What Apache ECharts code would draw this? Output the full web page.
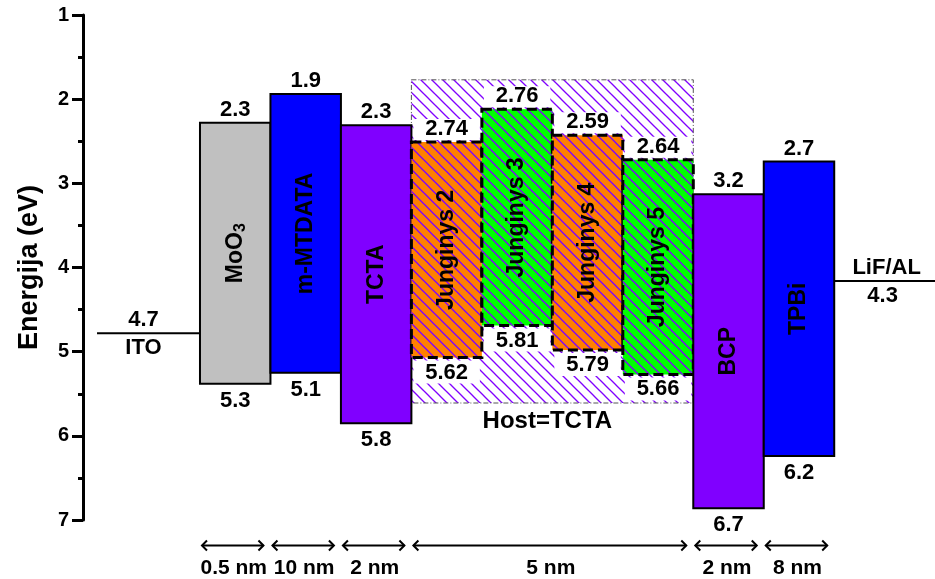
<!DOCTYPE html>
<html>
<head>
<meta charset="utf-8">
<script src="https://cdn.jsdelivr.net/npm/echarts@6/dist/echarts.min.js"></script>
<style>html,body{margin:0;padding:0;background:#fff}#c{width:935px;height:579px}</style>
</head>
<body>
<div id="c"></div>
<script>
// ---- data ----
var layers = ['MoO3', 'm-MTDATA', 'TCTA', 'Junginys 2', 'Junginys 3', 'Junginys 4', 'Junginys 5', 'BCP', 'TPBi'];
var lumoLevel = [2.28, 1.94, 2.31, 2.51, 2.12, 2.43, 2.72, 3.13, 2.74];
var homoLevel = [5.38, 5.25, 5.85, 5.07, 4.69, 4.98, 5.27, 6.86, 6.24];
var lumoText = ['2.3', '1.9', '2.3', '2.74', '2.76', '2.59', '2.64', '3.2', '2.7'];
var homoText = ['5.3', '5.1', '5.8', '5.62', '5.81', '5.79', '5.66', '6.7', '6.2'];
var electrodeNames = ['ITO', 'LiF/AL'];
var electrodeLevel = [4.78, 4.16];
var electrodeText = ['4.7', '4.3'];
var hostName = 'Host=TCTA';
var hostTop = 1.77, hostBottom = 5.61;
var thicknessText = ['0.5 nm', '10 nm', '2 nm', '5 nm', '2 nm', '8 nm'];
var thicknessFrom = [0, 1, 2, 3, 7, 8];
var thicknessTo = [1, 2, 3, 7, 8, 9];
var yTicks = [1, 2, 3, 4, 5, 6, 7];

// ---- style ----
var layerColor = ['#c0c0c0', '#0000ff', '#8000ff', '#ff8000', '#00ff00', '#ff8000', '#00ff00', '#8000ff', '#0000ff'];
var doped = [false, false, false, true, true, true, true, false, false];
var FAM = 'Arial, "Liberation Sans", sans-serif';
var FONT = 'bold 22px ' + FAM;
var NAMEFONT = 'bold 23px ' + FAM;

// hatch pattern
var hc = document.createElement('canvas');
var S = 11; hc.width = S; hc.height = S;
var hctx = hc.getContext('2d');
hctx.strokeStyle = '#8000ff'; hctx.lineWidth = 1.3;
for (var k = -1; k <= 1; k++) {
  hctx.beginPath(); hctx.moveTo(-1, k * S - 1); hctx.lineTo(S + 1, S + k * S + 1); hctx.stroke();
}
var hatch = { image: hc, repeat: 'repeat' };

var chart = echarts.init(document.getElementById('c'), null, { renderer: 'canvas' });

var layerData = layers.map(function (n, i) { return [i, i + 1, lumoLevel[i], homoLevel[i]]; });
var electrodeData = [[-1.461, 0, electrodeLevel[0], 0], [9, 10.43, electrodeLevel[1], 1]];
var thickData = thicknessText.map(function (t, i) { return [thicknessFrom[i], thicknessTo[i], i]; });

function txt(x, y, s, font) {
  return { type: 'text', x: x, y: y, style: { text: s, font: font || FONT, fill: '#000', align: 'center', verticalAlign: 'middle' } };
}

function layerItem(params, api) {
  var i = params.dataIndex;
  var p1 = api.coord([api.value(0), api.value(2)]);
  var p2 = api.coord([api.value(1), api.value(3)]);
  var x = p1[0], y = p1[1], w = p2[0] - p1[0], h = p2[1] - p1[1];
  var cx = x + w / 2, cy = y + h / 2;
  var ch = [];
  if (doped[i]) {
    ch.push({ type: 'rect', shape: { x: x, y: y, width: w, height: h }, style: { fill: layerColor[i] } });
    ch.push({ type: 'rect', shape: { x: x, y: y, width: w, height: h }, style: { fill: hatch } });
    ch.push({ type: 'rect', shape: { x: x + 2, y: y - 23, width: w - 4, height: 21 }, style: { fill: '#fff' } });
    ch.push({ type: 'rect', shape: { x: x + 2, y: y + h + 3, width: w - 4, height: 23 }, style: { fill: '#fff' } });
    ch.push({ type: 'rect', shape: { x: x, y: y, width: w, height: h }, style: { fill: null, stroke: '#000', lineWidth: 3, lineDash: [10, 5] } });
  } else {
    ch.push({ type: 'rect', shape: { x: x, y: y, width: w, height: h }, style: { fill: layerColor[i], stroke: '#000', lineWidth: 2 } });
  }
  var nameStyle;
  if (layers[i] === 'MoO3') {
    nameStyle = { text: '{a|MoO}{s|3}', rich: { a: { font: NAMEFONT, fill: '#000' }, s: { font: 'bold 16px ' + FAM, fill: '#000', padding: [10, 0, 0, 0] } }, align: 'center', verticalAlign: 'middle' };
  } else {
    nameStyle = { text: layers[i], font: NAMEFONT, fill: '#000', align: 'center', verticalAlign: 'middle' };
  }
  ch.push({ type: 'text', x: cx, y: cy, rotation: Math.PI / 2, style: nameStyle });
  ch.push(txt(cx, y - 13, lumoText[i]));
  ch.push(txt(cx, y + h + (doped[i] ? 15 : 17), homoText[i]));
  return { type: 'group', children: ch };
}

function hostItem(params, api) {
  var p1 = api.coord([3, hostTop]);
  var p2 = api.coord([7, hostBottom]);
  var x = p1[0], y = p1[1], w = p2[0] - p1[0], h = p2[1] - p1[1];
  return { type: 'group', children: [
    { type: 'rect', shape: { x: x, y: y, width: w, height: h }, style: { fill: hatch } },
    { type: 'rect', shape: { x: x, y: y, width: w, height: h }, style: { fill: null, stroke: '#555', lineWidth: 1, lineDash: [5, 2, 1, 2] } },
    txt(x + w / 2 - 5, y + h + 18, hostName, 'bold 24px ' + FAM)
  ] };
}

function electrodeItem(params, api) {
  var i = params.dataIndex;
  var p1 = api.coord([api.value(0), api.value(2)]);
  var p2 = api.coord([api.value(1), api.value(2)]);
  var cx = (p1[0] + p2[0]) / 2;
  var top = i === 0 ? electrodeText[0] : electrodeNames[1];
  var bot = i === 0 ? electrodeNames[0] : electrodeText[1];
  return { type: 'group', children: [
    { type: 'line', shape: { x1: p1[0], y1: p1[1], x2: p2[0], y2: p2[1] }, style: { stroke: '#000', lineWidth: 2 } },
    txt(cx - (i === 0 ? 5 : -2), p1[1] - 13, top),
    txt(cx - (i === 0 ? 5 : 2), p1[1] + 15, bot)
  ] };
}

function thickItem(params, api) {
  var i = params.dataIndex;
  var base = api.coord([api.value(0), 7]);
  var end = api.coord([api.value(1), 7]);
  var x1 = base[0] + 2, x2 = end[0] - 7;
  var ya = base[1] + 25.5;
  var s = { stroke: '#000', lineWidth: 2, fill: null };
  return { type: 'group', children: [
    { type: 'line', shape: { x1: x1, y1: ya, x2: x2, y2: ya }, style: s },
    { type: 'polyline', shape: { points: [[x1 + 5, ya - 5], [x1, ya], [x1 + 5, ya + 5]] }, style: s },
    { type: 'polyline', shape: { points: [[x2 - 5, ya - 5], [x2, ya], [x2 - 5, ya + 5]] }, style: s },
    txt((x1 + x2) / 2 + 1, ya + 23, thicknessText[i], 'bold 21px ' + FAM)
  ] };
}

chart.setOption({
  animation: false,
  grid: { left: 83, right: 0, top: 15, bottom: 59, containLabel: false, outerBoundsMode: 'none' },
  xAxis: { type: 'value', min: -1.66, max: 10.43, show: false },
  yAxis: {
    type: 'value', inverse: true, min: yTicks[0], max: yTicks[yTicks.length - 1], interval: 1,
    name: 'Energija (eV)', nameLocation: 'middle', nameGap: 40, nameRotate: 90,
    nameTextStyle: { fontFamily: FAM, fontWeight: 'bold', fontSize: 27, color: '#000' },
    axisLine: { show: true, onZero: false, lineStyle: { color: '#000', width: 3 } },
    axisTick: { show: true, length: 11, lineStyle: { color: '#000', width: 3 } },
    minorTick: { show: true, splitNumber: 2, length: 5, lineStyle: { color: '#000', width: 3 } },
    splitLine: { show: false },
    axisLabel: { fontFamily: FAM, fontWeight: 'bold', fontSize: 20, color: '#000', margin: 14 }
  },
  series: [
    { type: 'custom', renderItem: hostItem, data: [[3, 7, hostTop, hostBottom]], clip: false, silent: true },
    { type: 'custom', renderItem: layerItem, data: layerData, clip: false, silent: true },
    { type: 'custom', renderItem: electrodeItem, data: electrodeData, clip: false, silent: true },
    { type: 'custom', renderItem: thickItem, data: thickData, clip: false, silent: true }
  ]
});
</script>
</body>
</html>
